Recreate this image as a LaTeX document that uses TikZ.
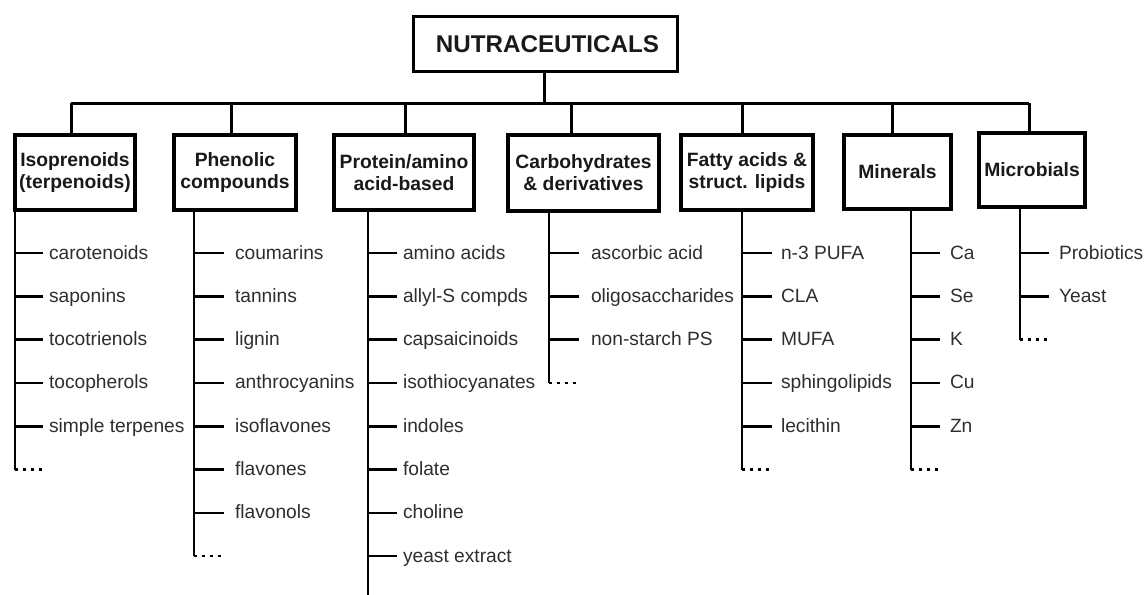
\documentclass[tikz,border=0pt]{standalone}
\usepackage{fontspec}
\setmainfont{Liberation Sans}
\tikzset{
  catbox/.style={draw, line width=4.2pt, inner sep=0pt, outer sep=0pt, align=center,
    font=\bfseries\fontsize{19.3}{22}\selectfont, text=black!90},
  rootbox/.style={draw, line width=3.2pt, inner sep=0pt, outer sep=0pt,
    font=\bfseries\fontsize{24.2}{28}\selectfont, text=black!90,
    minimum width=264pt, minimum height=55pt},
  conn/.style={line width=3pt},
  trunkline/.style={line width=2.9pt},
  tickline/.style={line width=2.6pt},
  dotline/.style={line width=2.6pt, dash pattern=on 2.6pt off 5.4pt},
  itemtxt/.style={anchor=west, inner ysep=0pt, outer sep=0pt, text height=14pt, text depth=2pt,
    font=\fontsize{19.2}{22}\selectfont, text=black!82},
}
\begin{document}
\begin{tikzpicture}[x=1pt,y=-1pt]
\useasboundingbox (0,0) rectangle (1145,594);

% root
\node[rootbox] (root) at (545.5,44) {\hspace{4pt}NUTRACEUTICALS};

% categories
\node[catbox, minimum width=120pt, minimum height=75pt] (iso)  at (75,172.5)   {Isoprenoids\\(terpenoids)};
\node[catbox, minimum width=122pt, minimum height=75pt] (phen) at (235,172.5)  {Phenolic\\compounds};
\node[catbox, minimum width=140pt, minimum height=75pt] (prot) at (404,172.5)  {Protein/amino\\acid-based};
\node[catbox, minimum width=151pt, minimum height=76pt] (carb) at (583.5,173)  {Carbohydrates\\\& derivatives};
\node[catbox, minimum width=132pt, minimum height=75pt] (fat)  at (747,172.5)  {Fatty acids \&\\struct. lipids};
\node[catbox, minimum width=107pt, minimum height=74pt] (mine) at (897.5,172)  {Minerals};
\node[catbox, minimum width=106pt, minimum height=74pt] (micr) at (1032,170)   {Microbials};

% bus
\coordinate (busL) at (71,103);
\coordinate (busR) at (1029,103);
\draw[conn] (busL) -- (busR);
\draw[conn] ([xshift=-1.5pt]root.south) -- ([xshift=-1.5pt]root.south |- busL);
\draw[conn] ([xshift=-4pt]iso.north)    -- ([xshift=-4pt]iso.north |- busL);
\draw[conn] ([xshift=-4pt]phen.north)   -- ([xshift=-4pt]phen.north |- busL);
\draw[conn] ([xshift=1pt]prot.north)    -- ([xshift=1pt]prot.north |- busL);
\draw[conn] ([xshift=-12.5pt]carb.north) -- ([xshift=-12.5pt]carb.north |- busL);
\draw[conn] ([xshift=-5pt]fat.north)    -- ([xshift=-5pt]fat.north |- busL);
\draw[conn] ([xshift=-5.5pt]mine.north) -- ([xshift=-5.5pt]mine.north |- busL);
\draw[conn] ([xshift=-3pt]micr.north)   -- ([xshift=-3pt]micr.north |- busL);

% Isoprenoids
\coordinate (isoE) at (15,{253+43.3*5});
\draw[trunkline] (iso.south -| isoE) -- (isoE);
\draw[dotline] (isoE) -- ++(30,0);
\foreach \t [count=\i from 0] in {carotenoids,saponins,tocotrienols,tocopherols,simple terpenes} {
  \node[itemtxt, inner xsep=6pt] (iso-\i) at (43,{253+43.3*\i}) {\t};
  \draw[tickline] (iso-\i.west -| isoE) -- (iso-\i.west);
}

% Phenolic
\coordinate (phenE) at (194,{253+43.3*7});
\draw[trunkline] (phen.south -| phenE) -- (phenE);
\draw[dotline] (phenE) -- ++(30,0);
\foreach \t [count=\i from 0] in {coumarins,tannins,lignin,anthrocyanins,isoflavones,flavones,flavonols} {
  \node[itemtxt, inner xsep=11pt] (phen-\i) at (224,{253+43.3*\i}) {\t};
  \draw[tickline] (phen-\i.west -| phenE) -- (phen-\i.west);
}

% Protein
\coordinate (protE) at (368,596);
\draw[trunkline] (prot.south -| protE) -- (protE);
\foreach \t [count=\i from 0] in {amino acids,allyl-S compds,capsaicinoids,isothiocyanates,indoles,folate,choline,yeast extract} {
  \node[itemtxt, inner xsep=6pt] (prot-\i) at (397,{253+43.3*\i}) {\t};
  \draw[tickline] (prot-\i.west -| protE) -- (prot-\i.west);
}

% Carbohydrates
\coordinate (carbE) at (549,{253+43.3*3});
\draw[trunkline] (carb.south -| carbE) -- (carbE);
\draw[dotline] (carbE) -- ++(30,0);
\foreach \t [count=\i from 0] in {ascorbic acid,oligosaccharides,non-starch PS} {
  \node[itemtxt, inner xsep=12pt] (carb-\i) at (579,{253+43.3*\i}) {\t};
  \draw[tickline] (carb-\i.west -| carbE) -- (carb-\i.west);
}

% Fatty acids
\coordinate (fatE) at (742,{253+43.3*5});
\draw[trunkline] (fat.south -| fatE) -- (fatE);
\draw[dotline] (fatE) -- ++(30,0);
\foreach \t [count=\i from 0] in {n-3 PUFA,CLA,MUFA,sphingolipids,lecithin} {
  \node[itemtxt, inner xsep=9pt] (fat-\i) at (772,{253+43.3*\i}) {\t};
  \draw[tickline] (fat-\i.west -| fatE) -- (fat-\i.west);
}

% Minerals
\coordinate (mineE) at (911,{253+43.3*5});
\draw[trunkline] (mine.south -| mineE) -- (mineE);
\draw[dotline] (mineE) -- ++(30,0);
\foreach \t [count=\i from 0] in {Ca,Se,K,Cu,Zn} {
  \node[itemtxt, inner xsep=10pt] (mine-\i) at (940,{253+43.3*\i}) {\t};
  \draw[tickline] (mine-\i.west -| mineE) -- (mine-\i.west);
}

% Microbials
\coordinate (micrE) at (1020,{253+43.3*2});
\draw[trunkline] (micr.south -| micrE) -- (micrE);
\draw[dotline] (micrE) -- ++(30,0);
\foreach \t [count=\i from 0] in {Probiotics,Yeast} {
  \node[itemtxt, inner xsep=10pt] (micr-\i) at (1049,{253+43.3*\i}) {\t};
  \draw[tickline] (micr-\i.west -| micrE) -- (micr-\i.west);
}
\end{tikzpicture}
\end{document}
